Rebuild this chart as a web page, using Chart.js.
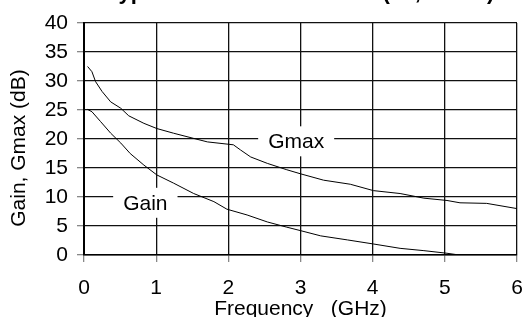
<!DOCTYPE html>
<html>
<head>
<meta charset="utf-8">
<script src="https://cdn.jsdelivr.net/npm/chart.js@4"></script>
<style>
  html, body { margin: 0; padding: 0; background: #fff; }
  #wrap { width: 522px; height: 317px; position: relative; }
</style>
</head>
<body>
<div id="wrap"><canvas id="c"></canvas></div>
<script>
const chartTitle = "Typical Gain Performance (5V, 60mA)";
const yAxisTitle = "Gain, Gmax (dB)";
const xAxisTitle = "Frequency   (GHz)";
const xTickValues = [0, 1, 2, 3, 4, 5, 6];
const yTickValues = [0, 5, 10, 15, 20, 25, 30, 35, 40];

const gmaxFreq = [0.05, 0.11, 0.16, 0.25, 0.37, 0.51, 0.62, 0.83, 1.01, 1.24, 1.52, 1.71, 2.07, 2.17, 2.31, 2.54, 2.81, 3.0, 3.32, 3.69, 4.01, 4.38, 4.71, 5.03, 5.21, 5.58, 6.0];
const gmaxValues = [32.5, 31.6, 29.9, 28.2, 26.4, 25.3, 24.0, 22.7, 21.8, 21.0, 20.1, 19.5, 19.0, 18.1, 16.9, 15.8, 14.7, 14.0, 12.9, 12.2, 11.1, 10.6, 9.8, 9.4, 9.0, 8.9, 8.0];

const gainFreq = [0.05, 0.11, 0.23, 0.37, 0.51, 0.64, 0.83, 1.01, 1.24, 1.52, 1.80, 1.98, 2.26, 2.54, 2.81, 3.0, 3.28, 3.65, 4.01, 4.38, 4.71, 5.03, 5.2];
const gainValues = [25.1, 24.7, 23.0, 21.0, 19.3, 17.5, 15.5, 13.8, 12.4, 10.6, 9.2, 7.9, 6.9, 5.7, 4.8, 4.2, 3.3, 2.6, 1.9, 1.15, 0.75, 0.3, 0];

const curveLabels = [
  { text: "Gmax", x: 2.94, y: 19.6 },
  { text: "Gain", x: 0.85, y: 9.0 }
];

const FONT = "'Liberation Sans', Arial, sans-serif";

const pts = (xs, ys) => xs.map((x, i) => ({ x: x, y: ys[i] }));

const labelPlugin = {
  id: 'curveLabels',
  beforeDatasetsDraw(chart) {
    const ctx = chart.ctx;
    const xs = chart.scales.x, ys = chart.scales.y;
    ctx.save();
    ctx.font = "21px " + FONT;
    ctx.textAlign = 'center';
    ctx.textBaseline = 'middle';
    curveLabels.forEach(l => {
      const cx = xs.getPixelForValue(l.x);
      const cy = ys.getPixelForValue(l.y);
      const w = ctx.measureText(l.text).width + 20;
      ctx.fillStyle = '#fff';
      ctx.fillRect(cx - w / 2, cy - 15, w, 30);
      ctx.fillStyle = '#000';
      ctx.fillText(l.text, cx, cy + 1);
    });
    ctx.restore();
  },
  afterDraw(chart) {
    const ctx = chart.ctx;
    const a = chart.chartArea;
    ctx.save();
    ctx.fillStyle = '#000';
    ctx.font = "bold 22px " + FONT;
    ctx.textAlign = 'center';
    ctx.textBaseline = 'alphabetic';
    ctx.fillText(chartTitle, (a.left + a.right) / 2, -1);
    ctx.font = "21px " + FONT;
    ctx.textBaseline = 'middle';
    ctx.translate(19, 148);
    ctx.rotate(-Math.PI / 2);
    ctx.fillText(yAxisTitle, 0, 0);
    ctx.restore();
  }
};

new Chart(document.getElementById('c'), {
  type: 'scatter',
  data: {
    datasets: [
      { label: 'Gmax', data: pts(gmaxFreq, gmaxValues), showLine: true, borderColor: '#000', borderWidth: 1, pointRadius: 0, tension: 0, fill: false },
      { label: 'Gain', data: pts(gainFreq, gainValues), showLine: true, borderColor: '#000', borderWidth: 1, pointRadius: 0, tension: 0, fill: false }
    ]
  },
  options: {
    responsive: true,
    maintainAspectRatio: false,
    animation: false,
    devicePixelRatio: 1,
    layout: { padding: { top: 23, right: 5, left: 0, bottom: 0 } },
    plugins: { legend: { display: false }, tooltip: { enabled: false }, title: { display: false } },
    scales: {
      x: {
        type: 'linear', min: 0, max: 6,
        afterBuildTicks: s => { s.ticks = xTickValues.map(v => ({ value: v })); },
        afterFit: s => { s.height = 62; s.paddingLeft = 0; s.paddingRight = 0; },
        ticks: { color: '#000', font: { family: FONT, size: 21 }, padding: 14, maxRotation: 0 },
        grid: { color: '#111', lineWidth: 1.3, tickColor: '#888', tickLength: 7, tickWidth: 1.3 },
        border: { color: '#000', width: 1.5 },
        title: { display: true, text: xAxisTitle, color: '#000', font: { family: FONT, size: 21 }, padding: { top: 0, bottom: -5 } }
      },
      y: {
        type: 'linear', min: 0, max: 40,
        afterBuildTicks: s => { s.ticks = yTickValues.map(v => ({ value: v })); },
        afterFit: s => { s.width = 84; s.paddingTop = 0; s.paddingBottom = 0; },
        ticks: { color: '#000', font: { family: FONT, size: 21 }, padding: 9 },
        grid: { color: '#111', lineWidth: 1.3, tickColor: '#888', tickLength: 7, tickWidth: 1.3 },
        border: { color: '#000', width: 2 }
      }
    }
  },
  plugins: [labelPlugin]
});
</script>
</body>
</html>
